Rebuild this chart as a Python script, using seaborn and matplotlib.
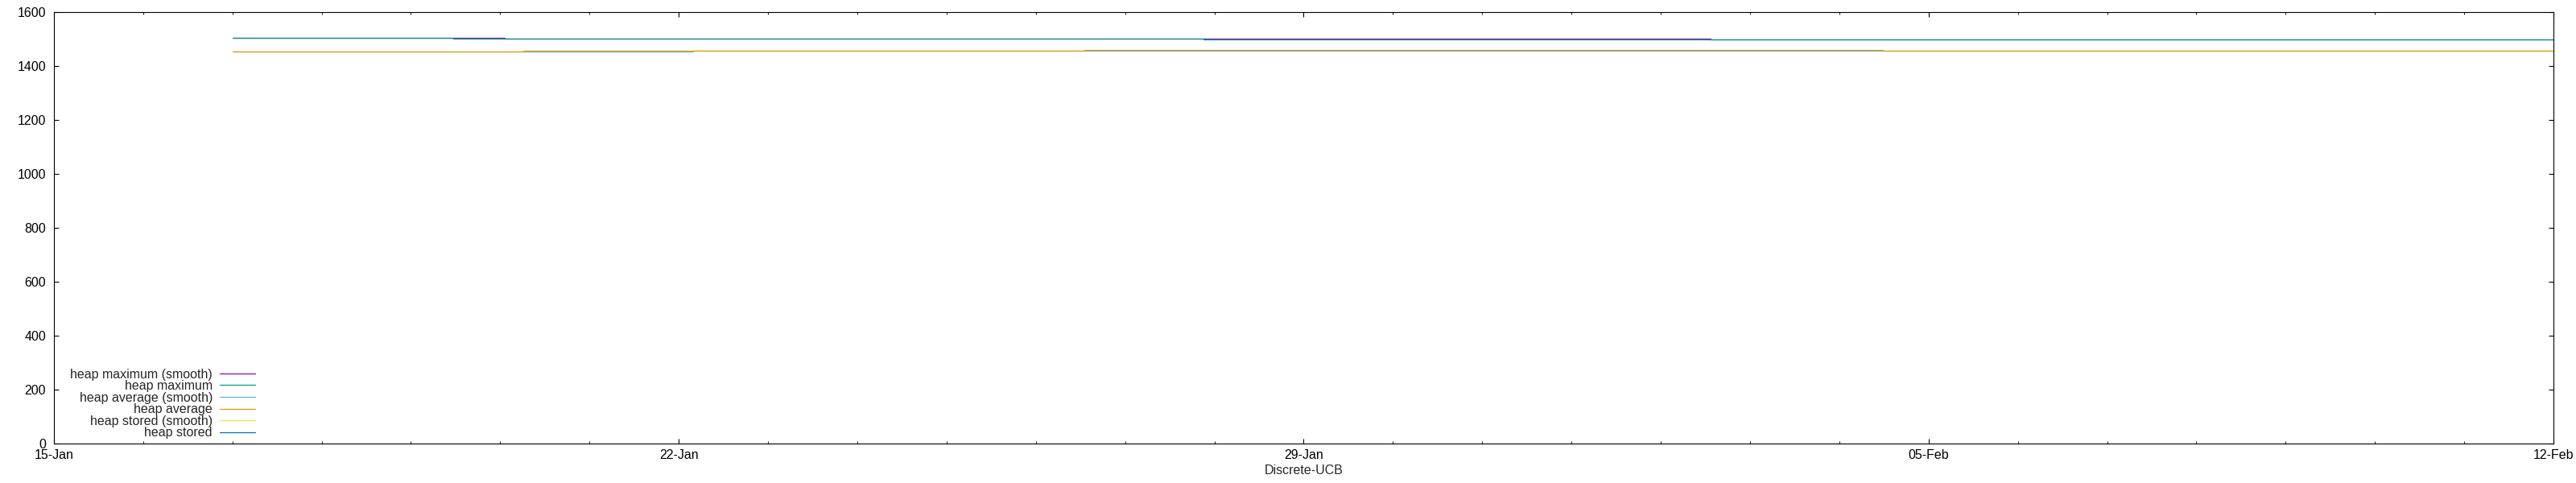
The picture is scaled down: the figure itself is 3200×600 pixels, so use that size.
import pandas as pd
import seaborn as sns
import matplotlib.pyplot as plt
import matplotlib.dates as mdates


# ============================
# Data (step change points)
# ============================

heap_max_smooth_t = ["2024-01-17 00:00", "2024-01-20 01:10", "2024-02-02 13:25", "2024-02-12 00:00"]
heap_max_smooth = [1503.6, 1500.6, 1497.6, 1497.6]

heap_max_t = ["2024-01-17 00:00", "2024-01-19 11:20", "2024-01-27 21:00", "2024-02-12 00:00"]
heap_max = [1503.6, 1500.6, 1497.6, 1497.6]

heap_avg_smooth_t = ["2024-01-17 00:00", "2024-01-22 03:50", "2024-02-12 00:00"]
heap_avg_smooth = [1452.8, 1455.8, 1455.8]

heap_avg_t = ["2024-01-17 00:00", "2024-01-20 06:10", "2024-01-26 13:00", "2024-02-04 11:45", "2024-02-12 00:00"]
heap_avg = [1452.8, 1455.8, 1458.8, 1455.8, 1455.8]

# no visible points for these two
heap_stored_smooth_t = []
heap_stored_smooth = []
heap_stored_t = []
heap_stored = []

series = [
    ("heap maximum (smooth)", heap_max_smooth_t, heap_max_smooth, "#9400d3"),
    ("heap maximum", heap_max_t, heap_max, "#009e73"),
    ("heap average (smooth)", heap_avg_smooth_t, heap_avg_smooth, "#56b4e9"),
    ("heap average", heap_avg_t, heap_avg, "#e69f00"),
    ("heap stored (smooth)", heap_stored_smooth_t, heap_stored_smooth, "#f0e442"),
    ("heap stored", heap_stored_t, heap_stored, "#0072b2"),
]


# ============================
# Plot
# ============================

sns.set_theme(style="ticks")
plt.rcParams["font.family"] = ["Liberation Sans", "DejaVu Sans"]
plt.rcParams["font.size"] = 11.5

fig, ax = plt.subplots(figsize=(32, 6), dpi=100)
fig.subplots_adjust(left=0.0209, right=0.99125, top=0.975, bottom=0.0817)

for name, t, v, color in series:
    if len(v) > 0:
        df = pd.DataFrame({"time": pd.to_datetime(t), "value": v})
        sns.lineplot(data=df, x="time", y="value", ax=ax, color=color,
                     linewidth=0.9, drawstyle="steps-post", label=name)
    else:
        ax.plot([], [], color=color, linewidth=0.9, label=name)

ax.set_xlim(pd.Timestamp("2024-01-15"), pd.Timestamp("2024-02-12"))
ax.set_ylim(0, 1600)
ax.set_yticks(range(0, 1601, 200))

ax.xaxis.set_major_locator(mdates.WeekdayLocator(byweekday=mdates.MO))
ax.xaxis.set_major_formatter(mdates.DateFormatter("%d-%b"))
ax.xaxis.set_minor_locator(mdates.DayLocator())

ax.tick_params(axis="both", which="major", direction="in", length=4.3,
               width=0.8, top=True, right=True, labelsize=11.5, colors="black")
ax.tick_params(axis="x", which="minor", direction="in", length=2.2,
               width=0.8, top=True)
ax.tick_params(axis="y", which="major", pad=7)
ax.tick_params(axis="x", which="major", pad=5)

for s in ax.spines.values():
    s.set_visible(True)
    s.set_linewidth(0.8)
    s.set_color("black")

ax.set_xlabel("Discrete-UCB", fontsize=11.5, labelpad=3)
ax.set_ylabel("")

leg = ax.legend(loc="lower right", bbox_to_anchor=(0.083, -0.004),
                frameon=False, markerfirst=False, borderpad=0,
                handlelength=2.7, handletextpad=0.6, labelspacing=-0.03,
                fontsize=11.5)

fig.savefig("out.png", dpi=100)
